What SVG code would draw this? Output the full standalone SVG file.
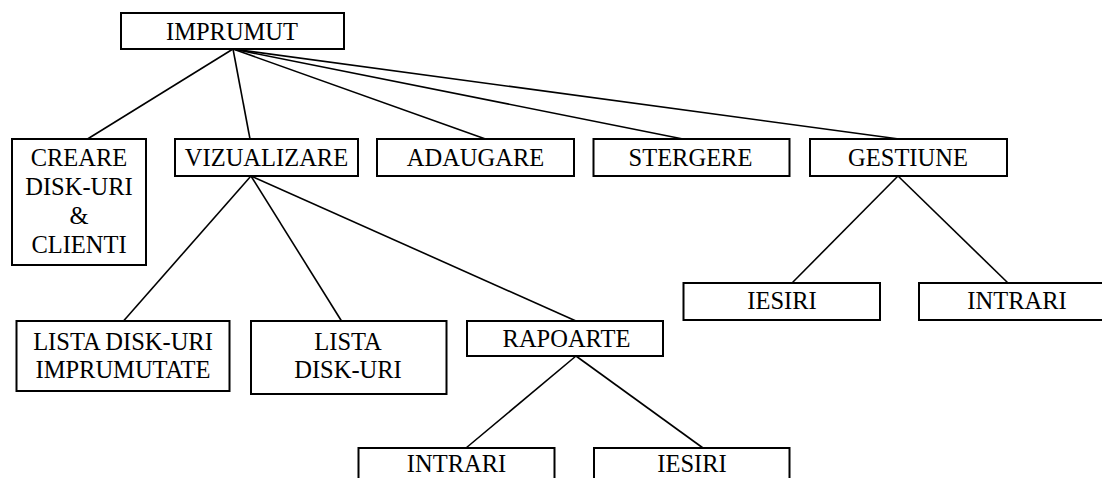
<svg xmlns="http://www.w3.org/2000/svg" width="1102" height="478" viewBox="0 0 1102 478">
<style>
rect{fill:#fff;stroke:#000;stroke-width:2}
.t{font-family:'Liberation Serif',serif;font-size:24.5px;fill:#000;text-anchor:middle}
#connectors line{stroke:#000;stroke-width:1.6}
</style>
<rect x="0" y="0" width="1102" height="478" style="stroke:none"/>
<g id="connectors">
<line x1="233" y1="49" x2="87.5" y2="139"/>
<line x1="233" y1="49" x2="250" y2="139"/>
<line x1="233" y1="49" x2="485.5" y2="139"/>
<line x1="233" y1="49" x2="683" y2="139"/>
<line x1="233" y1="49" x2="899" y2="139"/>
<line x1="251" y1="176" x2="123.5" y2="321"/>
<line x1="251" y1="176" x2="341.5" y2="321"/>
<line x1="251" y1="176" x2="576" y2="321"/>
<line x1="898" y1="176" x2="792" y2="283"/>
<line x1="898" y1="176" x2="1008" y2="283"/>
<line x1="576" y1="356" x2="466" y2="448"/>
<line x1="576" y1="356" x2="703" y2="448"/>
</g>
<g id="n-imprumut"><rect x="121" y="13" width="223" height="36"/><text class="t" x="232" y="39.5">IMPRUMUT</text></g>
<g id="n-creare"><rect x="12" y="139" width="134" height="126"/><text class="t" x="79" y="166">CREARE</text><text class="t" x="79" y="195">DISK-URI</text><text class="t" x="79" y="224">&amp;</text><text class="t" x="79" y="253">CLIENTI</text></g>
<g id="n-vizualizare"><rect x="175" y="139" width="183" height="37"/><text class="t" x="266.5" y="166">VIZUALIZARE</text></g>
<g id="n-adaugare"><rect x="377" y="139" width="197" height="37"/><text class="t" x="475.5" y="166">ADAUGARE</text></g>
<g id="n-stergere"><rect x="593.5" y="139" width="196" height="37"/><text class="t" x="690.5" y="166">STERGERE</text></g>
<g id="n-gestiune"><rect x="810" y="139" width="197" height="37"/><text class="t" x="908" y="166">GESTIUNE</text></g>
<g id="n-lista-imprumutate"><rect x="16.5" y="321" width="213" height="70"/><text class="t" x="123" y="349.5">LISTA DISK-URI</text><text class="t" x="123" y="377.5">IMPRUMUTATE</text></g>
<g id="n-lista"><rect x="251" y="321" width="195.5" height="73"/><text class="t" x="348" y="349.5">LISTA</text><text class="t" x="348" y="377.5">DISK-URI</text></g>
<g id="n-rapoarte"><rect x="467" y="321" width="196" height="35"/><text class="t" x="566.5" y="347">RAPOARTE</text></g>
<g id="n-gestiune-iesiri"><rect x="683.5" y="283" width="196.5" height="37"/><text class="t" x="782" y="308.5">IESIRI</text></g>
<g id="n-gestiune-intrari"><rect x="919" y="283" width="196" height="37"/><text class="t" x="1017" y="308.5">INTRARI</text></g>
<g id="n-rapoarte-intrari"><rect x="358.5" y="448" width="196" height="40"/><text class="t" x="456.5" y="472">INTRARI</text></g>
<g id="n-rapoarte-iesiri"><rect x="594" y="448" width="195.5" height="40"/><text class="t" x="692" y="472">IESIRI</text></g>
</svg>
